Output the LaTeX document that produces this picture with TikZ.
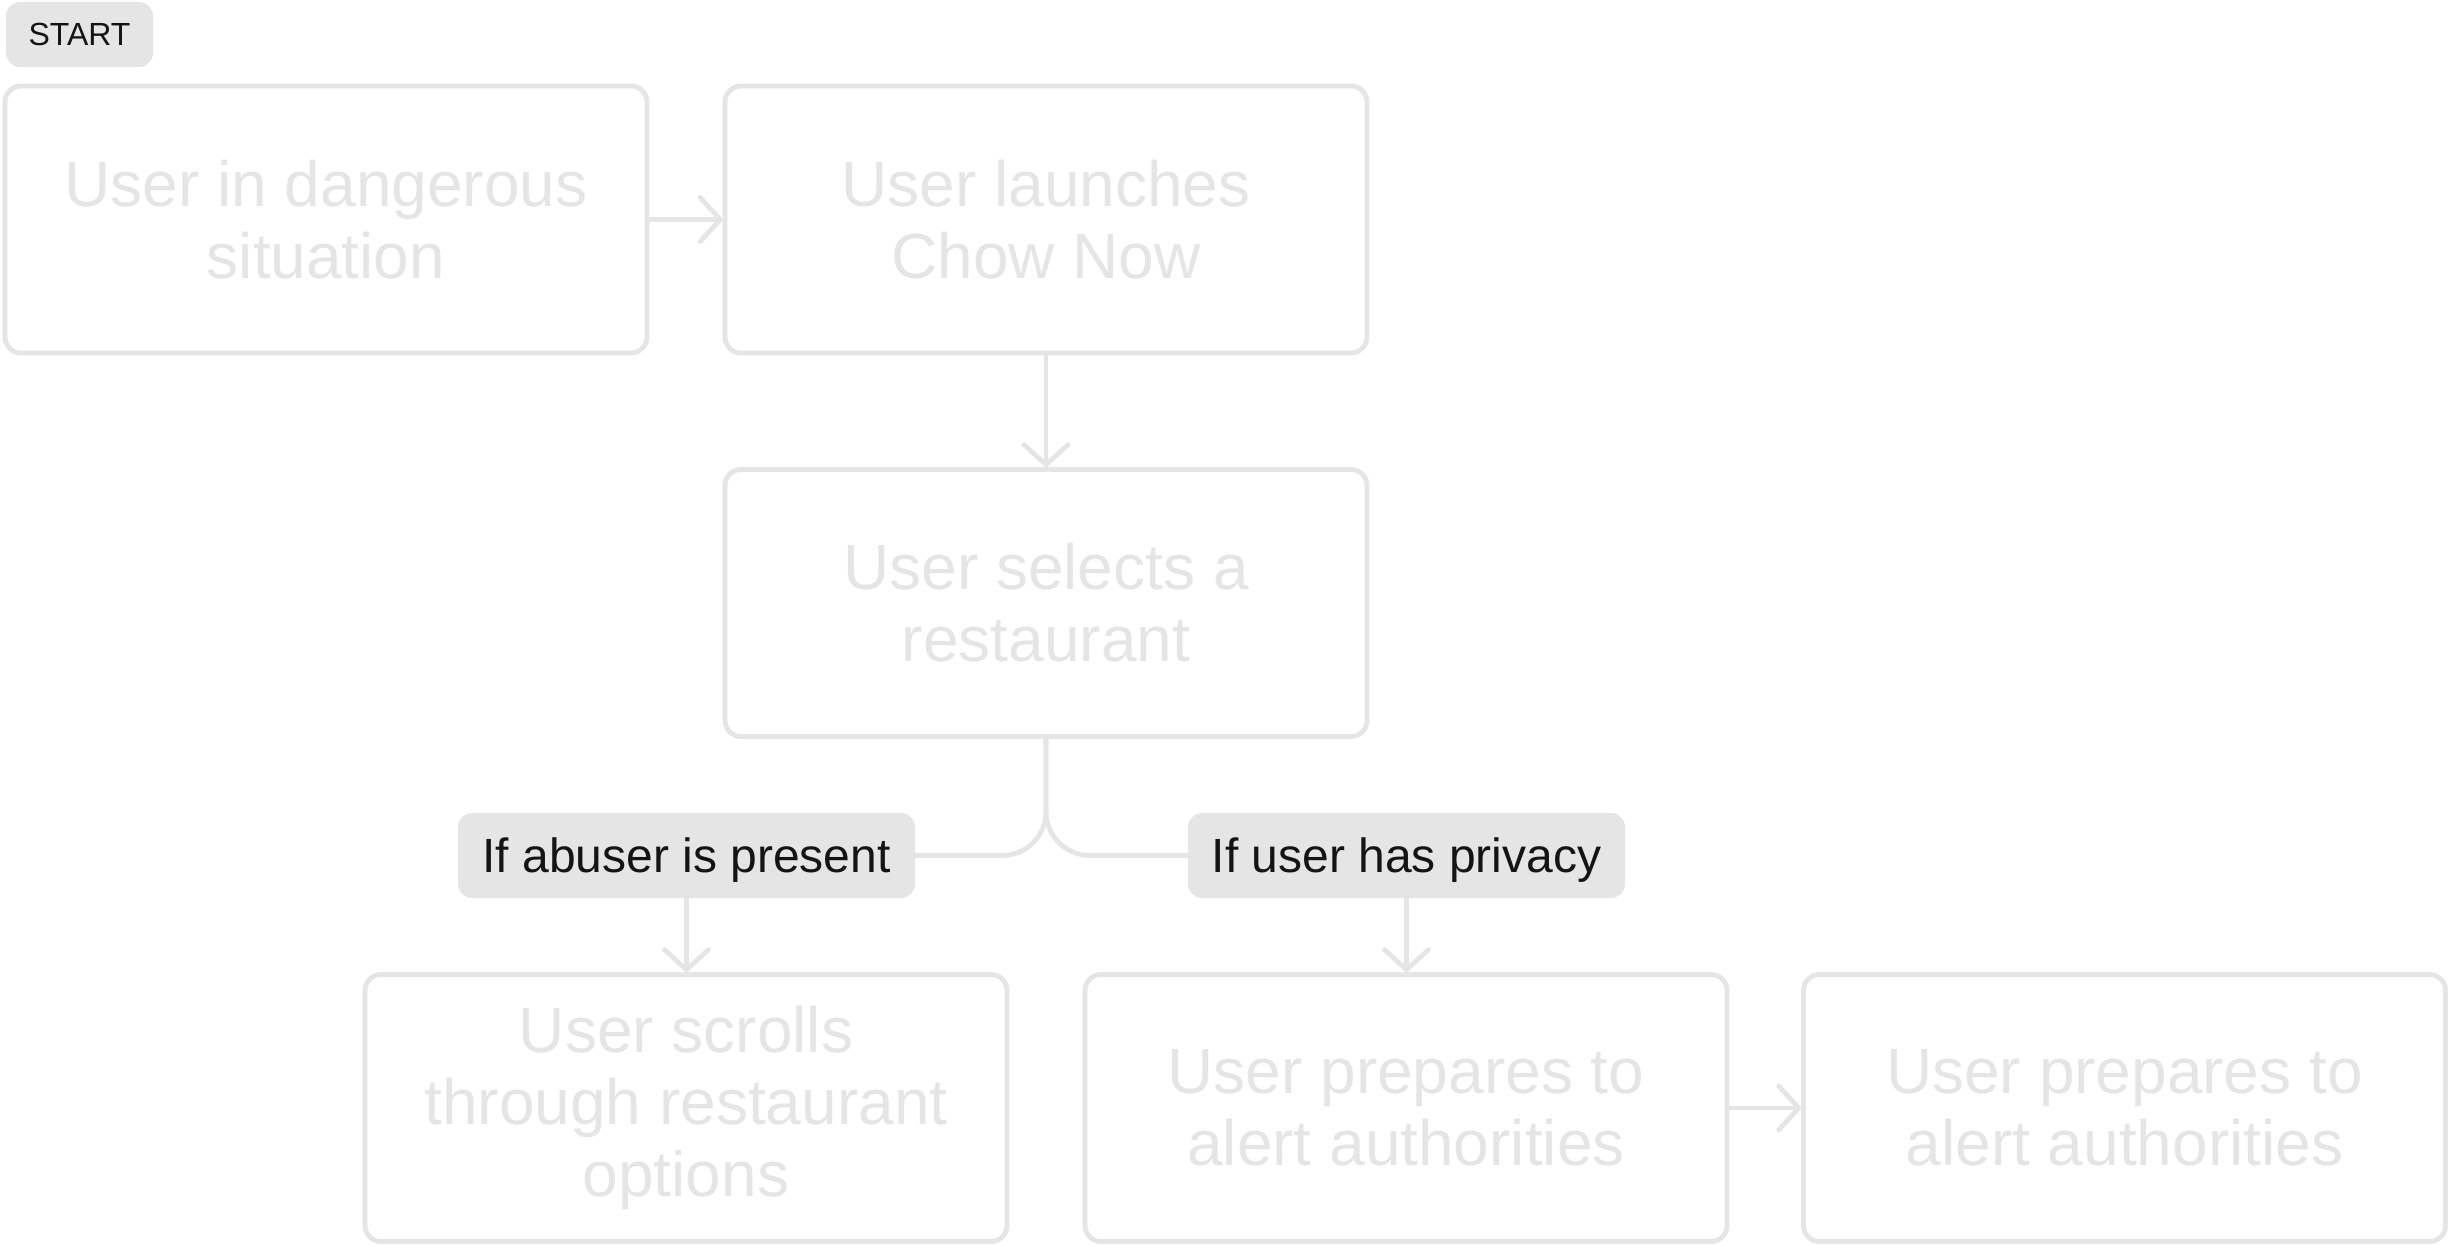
\documentclass[tikz,border=0pt]{standalone}
\usepackage{fontspec}
\setmainfont{Liberation Sans}
\usetikzlibrary{arrows.meta}
\definecolor{lineg}{HTML}{E5E5E5}
\definecolor{textdark}{HTML}{141414}
\tikzset{
  flowbox/.style={draw=lineg, line width=2.4pt, rounded corners=8pt, minimum width=321pt, minimum height=133.5pt, inner sep=0pt, align=center, text=lineg, font=\fontsize{32}{36}\selectfont},
  condlabel/.style={fill=lineg, rounded corners=7pt, minimum height=42.5pt, text depth=0pt, inner sep=0pt, text=textdark, font=\fontsize{24}{28}\selectfont},
  startlabel/.style={fill=lineg, rounded corners=7pt, minimum width=73.5pt, minimum height=32.5pt, inner sep=0pt, text=textdark, font=\fontsize{16}{19}\selectfont},
  conn/.style={draw=lineg, line width=2.4pt, line cap=round},
  arr/.style={conn, -{Straight Barb[length=10pt, width=22pt, round]}}
}
\begin{document}
\begin{tikzpicture}[x=0.5pt, y=-0.5pt]
\useasboundingbox (0,0) rectangle (2452,1246);
\node[startlabel] (start) at (79.5,34.5) {START};
\node[flowbox] (b1) at (326,219.5) {User in dangerous\\situation};
\node[flowbox] (b2) at (1046,219.5) {User launches\\Chow Now};
\node[flowbox] (b3) at (1046,603) {User selects a\\restaurant};
\node[condlabel, minimum width=228.5pt] (l1) at (686.5,855.5) {If abuser is present};
\node[condlabel, minimum width=218.5pt] (l2) at (1406.5,855.5) {If user has privacy};
\node[flowbox] (b4) at (686,1108) {User scrolls\\through restaurant\\options};
\node[flowbox] (b5) at (1406,1108) {User prepares to\\alert authorities};
\node[flowbox] (b6) at (2124.5,1108) {User prepares to\\alert authorities};
\draw[arr] (b1.east) -- (b2.west);
\draw[arr] (b2.south) -- (b3.north);
\draw[conn, rounded corners=22pt] (b3.south) |- (l1.east);
\draw[conn, rounded corners=22pt] (b3.south) |- (l2.west);
\draw[arr] (l1.south) -- (l1.south |- b4.north);
\draw[arr] (l2.south) -- (l2.south |- b5.north);
\draw[arr] (b5.east) -- (b6.west);
\end{tikzpicture}
\end{document}
